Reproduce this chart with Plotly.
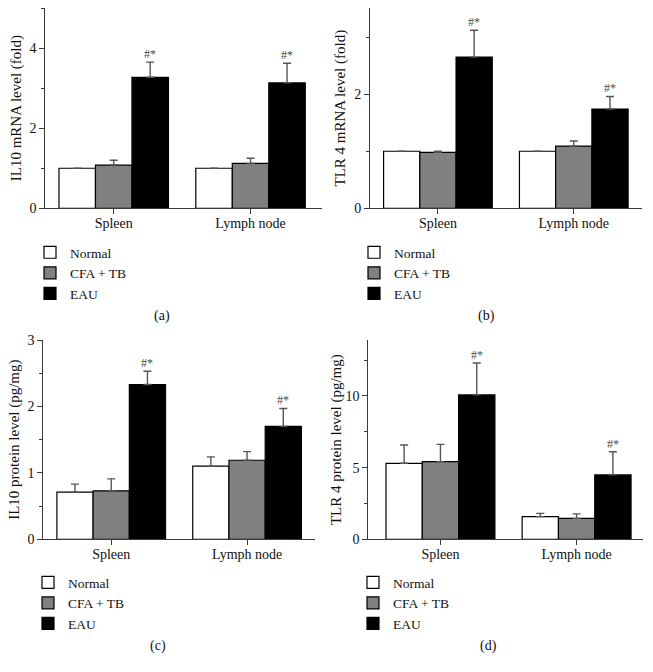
import plotly.graph_objects as go

W, H = 653, 672

categories = ["Spleen", "Lymph node"]
groups = ["Normal", "CFA + TB", "EAU"]
group_colors = ["#ffffff", "#808080", "#000000"]

# Panel (a) IL10 mRNA level (fold)
a_vals = {"Normal": [1.0, 1.0], "CFA + TB": [1.08, 1.12], "EAU": [3.27, 3.13]}
a_errs = {"Normal": [None, None], "CFA + TB": [0.12, 0.13], "EAU": [0.38, 0.49]}

# Panel (b) TLR 4 mRNA level (fold)
b_vals = {"Normal": [1.0, 1.0], "CFA + TB": [0.98, 1.09], "EAU": [2.65, 1.74]}
b_errs = {"Normal": [None, None], "CFA + TB": [0.02, 0.09], "EAU": [0.47, 0.22]}

# Panel (c) IL10 protein level (pg/mg)
c_vals = {"Normal": [0.71, 1.10], "CFA + TB": [0.73, 1.19], "EAU": [2.33, 1.70]}
c_errs = {"Normal": [0.12, 0.14], "CFA + TB": [0.18, 0.13], "EAU": [0.20, 0.27]}

# Panel (d) TLR 4 protein level (pg/mg)
d_vals = {"Normal": [5.3, 1.58], "CFA + TB": [5.42, 1.46], "EAU": [10.07, 4.49]}
d_errs = {"Normal": [1.28, 0.23], "CFA + TB": [1.2, 0.31], "EAU": [2.23, 1.62]}

sig_label = "#*"

panels = [
    dict(vals=a_vals, errs=a_errs, title="IL10 mRNA level (fold)", yrange=[0, 5.0],
         dtick=2, minor=1, xd=[45.3, 321.7], yd=[8, 208.3], xr=[-0.5, 1.52],
         leg=(30, 237), cap=("(a)", 162, 316), standoff=4),
    dict(vals=b_vals, errs=b_errs, title="TLR 4 mRNA level (fold)", yrange=[0, 3.51],
         dtick=2, minor=1, xd=[370, 641.7], yd=[8, 208.3], xr=[-0.5, 1.5],
         leg=(354, 237), cap=("(b)", 487, 316), standoff=4),
    dict(vals=c_vals, errs=c_errs, title="IL10 protein level (pg/mg)", yrange=[0, 3.0],
         dtick=1, minor=0.5, xd=[43.3, 315], yd=[340, 539.3], xr=[-0.5, 1.5],
         leg=(28, 567), cap=("(c)", 158, 646), standoff=4),
    dict(vals=d_vals, errs=d_errs, title="TLR 4 protein level (pg/mg)", yrange=[0, 13.9],
         dtick=5, minor=2.5, xd=[368.3, 643.3], yd=[340, 539.3], xr=[-0.53, 1.49],
         leg=(353, 567), cap=("(d)", 488, 646), standoff=0),
]

FONT = "Liberation Serif"
AXCOL = "#3a3a3a"
ERRCOL = "#555555"
BARGAP = 0.2

fig = go.Figure()
layout = dict(
    template="none",
    width=W, height=H, margin=dict(l=0, r=0, t=0, b=0, autoexpand=False),
    paper_bgcolor="white", plot_bgcolor="white",
    barmode="group", bargap=BARGAP, bargroupgap=0,
    font=dict(family=FONT, size=14, color="#111"),
    annotations=[],
)

for i, p in enumerate(panels):
    n = "" if i == 0 else str(i + 1)
    xa, ya = "x" + n, "y" + n
    legname = "legend" + n
    for g, col in zip(groups, group_colors):
        errs = p["errs"][g]
        fig.add_trace(go.Bar(
            x=categories, y=p["vals"][g], name=g,
            marker=dict(color=col, line=dict(color="#000", width=1.2)),
            error_y=dict(type="data", symmetric=False, array=errs,
                         arrayminus=[0 if e is not None else None for e in errs],
                         color=ERRCOL, thickness=1.4, width=4),
            xaxis=xa, yaxis=ya, legend=legname, showlegend=True,
        ))
    # significance markers above EAU bars
    off = (1 - BARGAP) / 3
    for k, cat in enumerate(categories):
        top = p["vals"]["EAU"][k] + p["errs"]["EAU"][k]
        layout["annotations"].append(dict(
            x=k + off, y=top, xref=xa, yref=ya, text=sig_label, showarrow=False,
            yanchor="bottom", yshift=-1, font=dict(size=12, color="#4a4a4a", family=FONT)))
    # caption
    cap, cx, cy = p["cap"]
    layout["annotations"].append(dict(
        x=cx / W, y=1 - cy / H, xref="paper", yref="paper", text=cap, showarrow=False,
        xanchor="center", yanchor="middle", font=dict(size=14, family=FONT, color="#111")))

    layout["xaxis" + n] = dict(
        domain=[p["xd"][0] / W, p["xd"][1] / W], anchor=ya, type="category",
        range=p["xr"], showline=True, linecolor=AXCOL, linewidth=1,
        ticks="outside", ticklen=5, tickcolor=AXCOL, showgrid=False, zeroline=False,
        automargin=False, ticklabelstandoff=-3,
        tickfont=dict(size=14, family=FONT, color="#111"), fixedrange=True,
    )
    layout["yaxis" + n] = dict(
        domain=[1 - p["yd"][1] / H, 1 - p["yd"][0] / H], anchor=xa,
        range=p["yrange"], showline=True, linecolor=AXCOL, linewidth=1,
        ticks="outside", ticklen=5, tickcolor=AXCOL, dtick=p["dtick"], tick0=0,
        minor=dict(ticks="outside", dtick=p["minor"], tick0=0, ticklen=3, tickcolor=AXCOL,
                   showgrid=False),
        showgrid=False, zeroline=False, automargin=False,
        tickfont=dict(size=14, family=FONT, color="#111"),
        title=dict(text=p["title"], font=dict(size=15, family=FONT, color="#111"),
                   standoff=p["standoff"]),
        fixedrange=True,
    )
    lx, ly = p["leg"]
    layout[legname] = dict(
        x=lx / W, y=1 - ly / H, xref="paper", yref="paper", xanchor="left", yanchor="top",
        bgcolor="rgba(0,0,0,0)", borderwidth=0, font=dict(size=13.5, family=FONT, color="#111"),
        traceorder="normal", itemclick=False, itemdoubleclick=False,
    )

fig.update_layout(**layout)
fig.write_html("out.html", config={"displayModeBar": False},
               post_script="document.body.style.margin='0';document.body.style.padding='0';")
